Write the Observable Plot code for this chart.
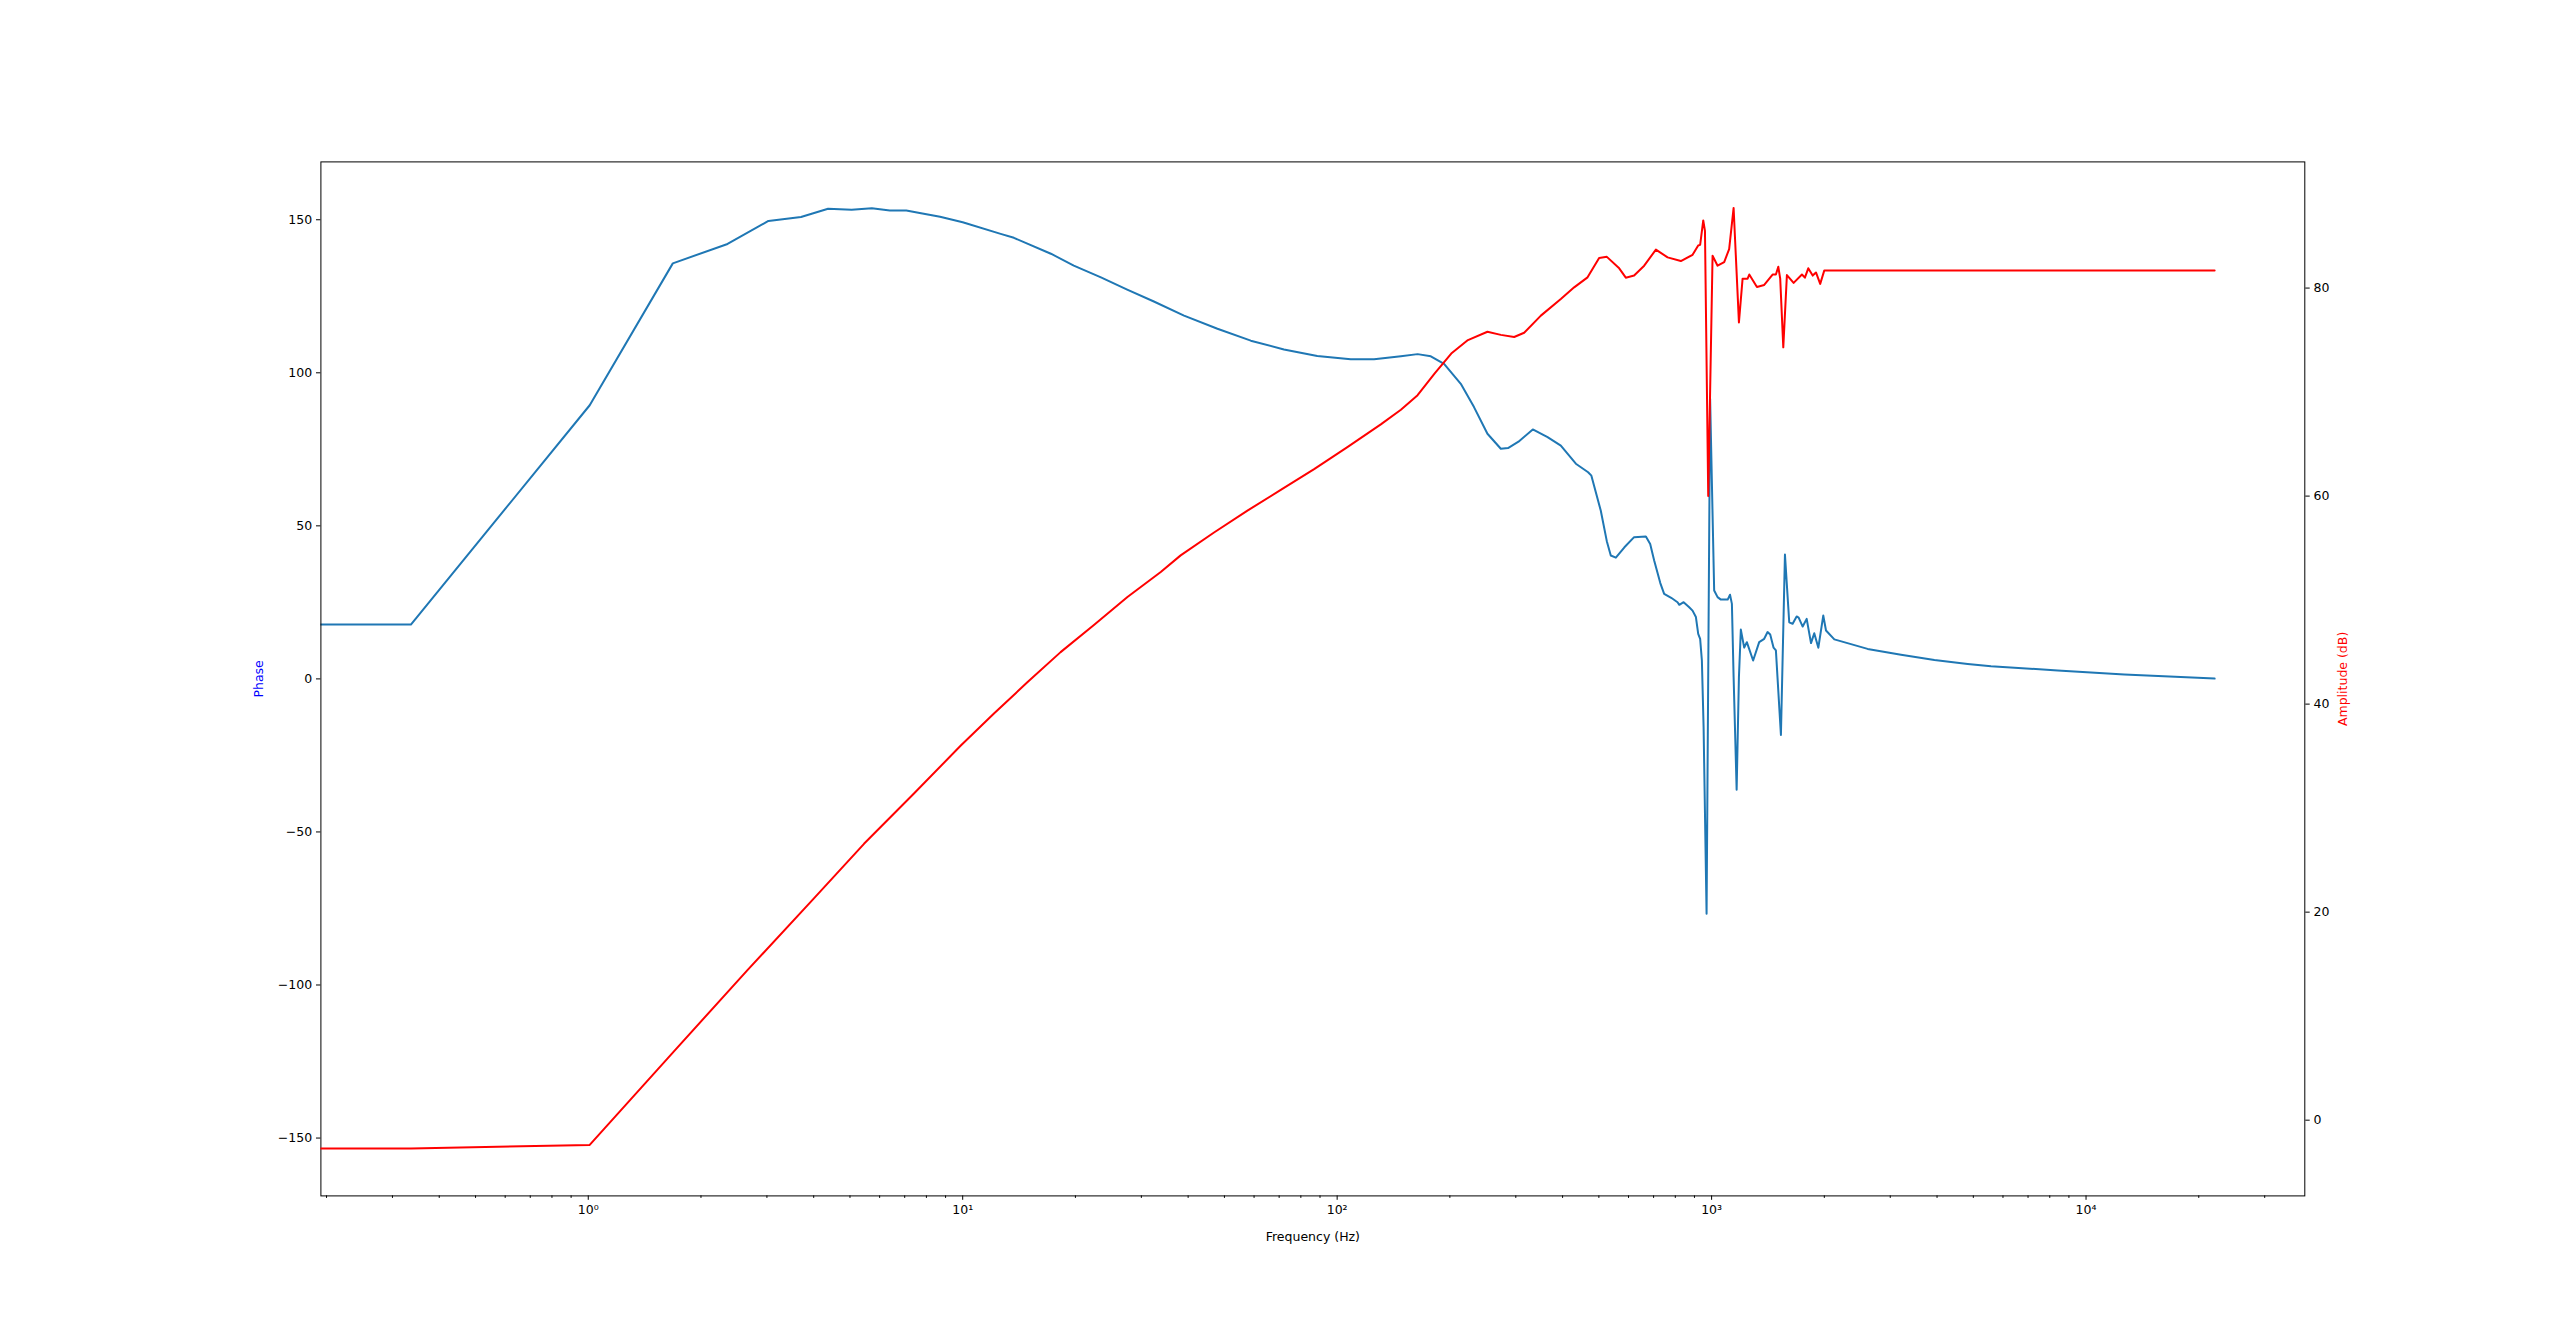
<!DOCTYPE html>
<html>
<head>
<meta charset="utf-8">
<script src="https://cdn.jsdelivr.net/npm/d3@7"></script>
<script src="https://cdn.jsdelivr.net/npm/@observablehq/plot@0.6"></script>
<style>
  html, body { margin: 0; padding: 0; background: #ffffff; }
  #chart { position: relative; width: 2560px; height: 1343px; }
  #chart svg { position: absolute; left: 0; top: 0; }
</style>
</head>
<body>
<div id="chart"></div>
<script>
// ---- Data ----
// Phase curve (blue): frequency in Hz, phase in degrees. 0.1 Hz stands for the DC bin (drawn off to the left edge).
const phaseFreq = [0.1, 0.336, 1.009, 1.682, 2.355, 3.028, 3.70, 4.37, 5.05, 5.72, 6.39, 7.07, 7.74, 8.7, 10,
  12.63, 13.7, 17.2, 19.8, 23.4, 27.5, 32.4, 39.0, 47.9, 58.8, 72.1, 88.5, 108.7, 125.5, 148, 164, 177.9,
  193, 213.9, 232, 252, 273.6, 286, 305, 333, 364.7, 395.7, 434, 468, 477.5, 505.8, 525, 538, 555, 585,
  621, 667.6, 685.5, 702.5, 729.5, 747, 780, 811, 820, 842, 870, 889.5, 908, 921, 932, 942, 952, 969.6,
  991, 1016, 1037.5, 1059, 1104, 1120, 1133, 1145, 1166.5, 1183, 1197, 1222, 1242, 1291, 1340, 1382,
  1411, 1434, 1464, 1485, 1531.6, 1570, 1612, 1646, 1687, 1708, 1751, 1794.5, 1843, 1880, 1928, 1987,
  2021, 2127, 2610, 3205, 3936, 4830, 5575, 8400, 12650, 22050];
const phaseDeg = [17.75, 17.75, 89.4, 135.75, 142.1, 149.6, 150.9, 153.6, 153.25, 153.75, 153.0, 153.0, 152.1, 151.0, 149.2,
  145.4, 144.1, 138.9, 135.0, 131.2, 127.2, 123.3, 118.7, 114.4, 110.5, 107.6, 105.5, 104.4, 104.4, 105.4, 106.1, 105.4,
  102.9, 96.4, 88.8, 80.1, 75.2, 75.4, 77.5, 81.5, 79.0, 76.2, 70.3, 67.5, 66.4, 55.0, 45.0, 40.3, 39.6, 43.0,
  46.3, 46.5, 44.1, 38.7, 31.3, 27.8, 26.5, 25.05, 24.2, 25.05, 23.5, 22.3, 20.2, 14.7, 13.1, 6.0, -15.8, -76.7,
  91.5, 28.9, 26.7, 25.9, 25.9, 27.5, 24.5, 0.55, -36.2, 0.55, 16.1, 10.2, 12.0, 6.0, 12.0, 13.1,
  15.3, 14.5, 10.2, 9.3, -18.3, 40.6, 18.5, 18.0, 20.4, 20.0, 17.1, 19.6, 11.7, 14.9, 10.2, 20.7,
  15.8, 12.9, 9.8, 7.9, 6.2, 4.9, 4.15, 2.74, 1.44, 0.1];

// Amplitude curve (red): frequency in Hz, amplitude in dB.
const ampFreq = [0.1, 0.336, 1.009, 1.682, 2.658, 4.0, 5.45, 7.41, 9.87, 12.12, 14.88, 18.26, 22.41, 27.54,
  33.8, 38.2, 46.9, 57.6, 70.7, 86.8, 106.5, 130.8, 148, 164, 182.2, 201.7, 223.5, 252, 273.6, 297, 315.8,
  350, 395.7, 429.5, 466.4, 500.8, 525.2, 566.6, 590, 621, 660.7, 710, 763, 827.6, 889.7, 920.9, 932,
  950, 960, 979.5, 1006, 1037.5, 1080.6, 1114, 1145, 1183, 1210, 1248, 1260.7, 1321.7, 1382, 1455,
  1485, 1507, 1525, 1554, 1589, 1656, 1743, 1775, 1812, 1862, 1900, 1950, 2000, 22050];
const ampDb = [-2.73, -2.73, -2.38, 6.5, 14.4, 21.3, 26.57, 31.4, 36.0, 39.1, 42.1, 45.0, 47.6, 50.3,
  52.7, 54.3, 56.5, 58.6, 60.6, 62.6, 64.7, 66.9, 68.3, 69.7, 71.8, 73.7, 75.0, 75.8, 75.5, 75.3, 75.7,
  77.35, 78.95, 80.07, 81.03, 82.9, 83.0, 81.9, 81.0, 81.2, 82.15, 83.7, 82.95, 82.6, 83.2, 84.1, 84.15,
  86.5, 85.5, 60.0, 83.1, 82.15, 82.5, 83.75, 87.7, 76.7, 80.9, 80.9, 81.3, 80.1, 80.3, 81.3,
  81.3, 82.05, 80.9, 74.3, 81.25, 80.5, 81.3, 81.0, 81.9, 81.2, 81.5, 80.4, 81.7, 81.7];

// Ticks and labels
const xMajorTicks = [1, 10, 100, 1000, 10000];
const xTickLabels = ["10\u2070", "10\u00b9", "10\u00b2", "10\u00b3", "10\u2074"];
const xMinorTicks = [0.2, 0.3, 0.4, 0.5, 0.6, 0.7, 0.8, 0.9,
  2, 3, 4, 5, 6, 7, 8, 9, 20, 30, 40, 50, 60, 70, 80, 90,
  200, 300, 400, 500, 600, 700, 800, 900, 2000, 3000, 4000, 5000, 6000, 7000, 8000, 9000,
  20000, 30000];
const phaseTicks = [-150, -100, -50, 0, 50, 100, 150];
const ampTicks = [0, 20, 40, 60, 80];
const xDomain = [0.1932, 38390];
const phaseDomain = [-168.9, 168.9];
const ampDomain = [-7.28, 92.13];

// ---- Layout ----
const W = 2560, H = 1343;
const fmt = d => (d < 0 ? "\u2212" + Math.abs(d) : String(d));
const baseStyle = {fontFamily: "'DejaVu Sans', sans-serif", fontSize: "12.5px", color: "black", overflow: "visible"};
const common = {
  width: W, height: H,
  marginLeft: 320.4, marginRight: 255.7, marginTop: 161.4, marginBottom: 147.6
};

const phaseIdx = d3.range(phaseFreq.length);
const ampIdx = d3.range(ampFreq.length);

const p1 = Plot.plot({
  ...common,
  style: {...baseStyle, background: "white"},
  x: {type: "log", domain: xDomain},
  y: {domain: phaseDomain},
  marks: [
    Plot.line(phaseIdx, {x: i => phaseFreq[i], y: i => phaseDeg[i], stroke: "#1f77b4", strokeWidth: 2, clip: true}),
    Plot.frame({stroke: "black", strokeWidth: 1}),
    Plot.axisY({ticks: phaseTicks, tickFormat: fmt, tickSize: 4.4, tickPadding: 4.4, label: null}),
    Plot.axisX({ticks: xMajorTicks, tickFormat: d => xTickLabels[xMajorTicks.indexOf(d)], tickSize: 4.4, tickPadding: 4.4, label: null}),
    Plot.axisX({ticks: xMinorTicks, tickFormat: () => "", tickSize: 2.5, label: null}),
    Plot.text(["Phase"], {text: d => d, frameAnchor: "left", dx: -62, rotate: -90, textAnchor: "middle", lineAnchor: "middle", fill: "blue"}),
    Plot.text(["Frequency (Hz)"], {text: d => d, frameAnchor: "bottom", dy: 41, textAnchor: "middle", lineAnchor: "middle", fill: "black"})
  ]
});

const p2 = Plot.plot({
  ...common,
  style: {...baseStyle, background: "transparent"},
  x: {type: "log", domain: xDomain, axis: null},
  y: {domain: ampDomain},
  marks: [
    Plot.line(ampIdx, {x: i => ampFreq[i], y: i => ampDb[i], stroke: "#ff0000", strokeWidth: 2, clip: true}),
    Plot.axisY({anchor: "right", ticks: ampTicks, tickFormat: fmt, tickSize: 4.4, tickPadding: 4.4, label: null}),
    Plot.text(["Amplitude (dB)"], {text: d => d, frameAnchor: "right", dx: 38, rotate: -90, textAnchor: "middle", lineAnchor: "middle", fill: "red"})
  ]
});

const chart = document.getElementById("chart");
chart.appendChild(p1);
chart.appendChild(p2);
</script>
</body>
</html>
